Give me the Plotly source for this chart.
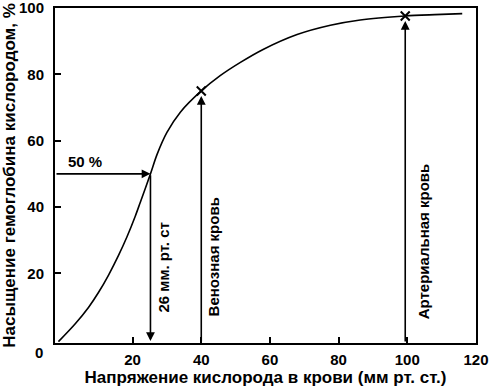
import plotly.graph_objects as go

# Oxygen dissociation curve
po2 = [-1.6, 3.3, 7.2, 10.1, 13.0, 15.9, 18.4, 20.8, 22.2, 25.2, 27.1, 30.0, 33.9, 40.0, 45.5, 51.4,
       58.0, 67.9, 77.6, 86.3, 99.4, 108.0, 116.0]
sat = [-0.6, 4.8, 9.8, 14.3, 19.5, 25.4, 31.1, 37.3, 41.3, 50.0, 55.8, 62.5, 68.6, 75.0, 79.6, 83.6,
       87.5, 92.0, 94.8, 96.4, 97.6, 98.0, 98.3]

x_ticks = [20, 40, 60, 80, 100, 120]
y_ticks = [20, 40, 60, 80, 100]

p50_x, p50_y = 25.2, 50
ven_x, ven_y = 40, 75.0
art_x, art_y = 99.4, 97.6

x_title = "Напряжение кислорода в крови (мм рт. ст.)"
y_title = "Насыщение гемоглобина кислородом, %"
lbl_50 = "50 %"
lbl_p50 = "26 мм. рт. ст"
lbl_ven = "Венозная кровь"
lbl_art = "Артериальная кровь"
lbl_zero = "0"

FONT = "Liberation Sans"
X0, X1 = -2.6, 120.01
Y0, Y1 = -1, 100.01

fig = go.Figure()
fig.add_trace(go.Scatter(x=po2, y=sat, mode="lines",
                         line=dict(color="black", width=1.6, shape="spline", smoothing=0.8),
                         hoverinfo="skip", showlegend=False))
fig.add_trace(go.Scatter(x=[ven_x, art_x], y=[ven_y, art_y], mode="markers",
                         marker=dict(symbol="x-thin", size=9, line=dict(color="black", width=2)),
                         hoverinfo="skip", showlegend=False))


def arrow(xh, yh, xt, yt, standoff=0):
    fig.add_annotation(x=xh, y=yh, ax=xt, ay=yt, xref="x", yref="y", axref="x", ayref="y",
                       text="", showarrow=True, arrowhead=2, arrowsize=1.1, arrowwidth=1.6,
                       arrowcolor="black", standoff=standoff)


arrow(p50_x, p50_y, X0, p50_y)
arrow(p50_x, -0.4, p50_x, p50_y)
arrow(ven_x, ven_y, ven_x, Y0, standoff=5)
arrow(art_x, art_y, art_x, Y0, standoff=5)


def label(text, x, y, angle=0, size=15, xref="x", yref="y"):
    fig.add_annotation(x=x, y=y, xref=xref, yref=yref, text="<b>" + text + "</b>", showarrow=False,
                       xanchor="center", yanchor="middle",
                       textangle=angle, font=dict(family=FONT, size=size, color="black"))


label(lbl_50, 6.2, 53.6)
label(lbl_p50, 28.9, 21.8, angle=-90)
label(lbl_ven, 43.5, 24.9, angle=-90)
label(lbl_art, 104.7, 29.8, angle=-90)
label(lbl_zero, -0.038, -0.027, xref="paper", yref="paper")

axis_common = dict(showgrid=False, zeroline=False, showline=True, linecolor="black", linewidth=2,
                   mirror=True, ticks="inside", ticklen=6, tickwidth=1.5, tickcolor="black",
                   ticklabeloverflow="allow",
                   tickfont=dict(family=FONT, size=15, color="black", weight="bold"))

fig.update_layout(
    width=495, height=390,
    margin=dict(l=55, r=19, t=8, b=47, autoexpand=False),
    paper_bgcolor="white", plot_bgcolor="white",
    hovermode=False,
    xaxis=dict(range=[X0, X1], tickvals=x_ticks, ticklabelstandoff=2,
               title=dict(text="<b>" + x_title + "</b>",
                          font=dict(family=FONT, size=17, color="black"), standoff=3),
               **axis_common),
    yaxis=dict(range=[Y0, Y1], tickvals=y_ticks, ticklabelstandoff=6,
               title=dict(text="<b>" + y_title + "</b>",
                          font=dict(family=FONT, size=17, color="black"), standoff=0),
               **axis_common),
)
fig.write_html("out.html", config={"displayModeBar": False},
               post_script="document.body.style.margin='0';")
